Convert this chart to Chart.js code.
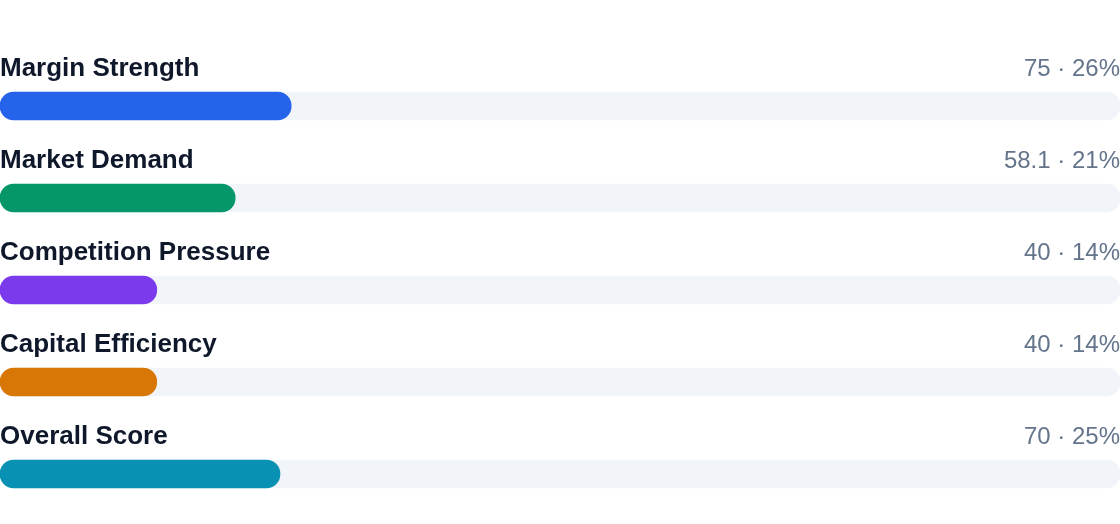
<!DOCTYPE html>
<html>
<head>
    <title>Score Breakdown</title>
    <script src="https://cdn.jsdelivr.net/npm/chart.js"></script>
    <style>
        body { margin: 0; background: #fff; }
        #wrap { width: 1120px; height: 524px; }
    </style>
</head>
<body>
    <div id="wrap"><canvas id="scoreChart"></canvas></div>

    <script>
        var labels = ['Margin Strength', 'Market Demand', 'Competition Pressure', 'Capital Efficiency', 'Overall Score'];
        var scores = [75, 58.1, 40, 40, 70];
        var shares = [26, 21, 14, 14, 25];
        var colors = ['#2563eb', '#059669', '#7c3aed', '#d97706', '#0891b2'];

        // draws the row title and the "score · share" text above each bar
        var rowText = {
            id: 'rowText',
            afterDatasetsDraw: function(chart) {
                var ctx = chart.ctx;
                var area = chart.chartArea;
                var meta = chart.getDatasetMeta(0);
                ctx.save();
                ctx.textBaseline = 'alphabetic';
                meta.data.forEach(function(bar, i) {
                    var y = bar.y - 30;
                    ctx.font = 'bold 26px "Liberation Sans", Arial, sans-serif';
                    ctx.fillStyle = '#0f172a';
                    ctx.textAlign = 'left';
                    ctx.fillText(labels[i], area.left, y);
                    ctx.font = '24px "Liberation Sans", Arial, sans-serif';
                    ctx.fillStyle = '#64748b';
                    ctx.textAlign = 'right';
                    ctx.fillText(scores[i] + ' \u00b7 ' + shares[i] + '%', area.right, y);
                });
                ctx.restore();
            }
        };

        var scoreChart = new Chart(document.getElementById('scoreChart'), {
            type: 'bar',
            data: {
                labels: labels,
                datasets: [{
                    data: shares,
                    backgroundColor: colors,
                    barThickness: 28,
                    borderRadius: 14,
                    borderSkipped: false,
                    order: 1
                }, {
                    data: labels.map(function() { return 100; }),
                    backgroundColor: '#f1f5f9',
                    barThickness: 28,
                    borderRadius: 14,
                    borderSkipped: false,
                    order: 2
                }]
            },
            options: {
                indexAxis: 'y',
                responsive: true,
                maintainAspectRatio: false,
                animation: false,
                layout: { padding: { top: 60, bottom: 4, left: 0, right: 0 } },
                datasets: { bar: { grouped: false } },
                plugins: {
                    legend: { display: false },
                    tooltip: { enabled: false }
                },
                scales: {
                    x: { display: false, min: 0, max: 100 },
                    y: { display: false }
                }
            },
            plugins: [rowText]
        });
    </script>
</body>
</html>
